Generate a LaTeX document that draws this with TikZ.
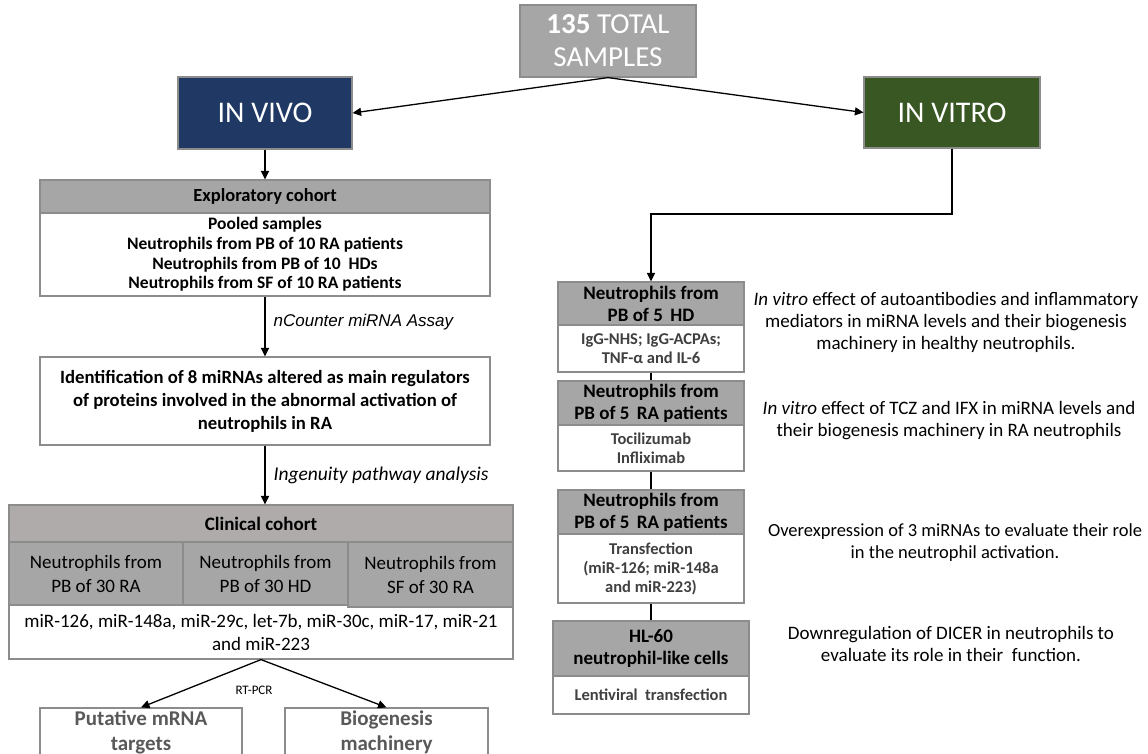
\documentclass[tikz,border=0pt]{standalone}
\usepackage{fontspec}
\setmainfont{Carlito}
\newfontfamily\arialfont{Liberation Sans}
\usetikzlibrary{arrows.meta}
\definecolor{boxgray}{HTML}{A6A6A6}
\definecolor{warmgray}{HTML}{AFABAB}
\definecolor{edgegray}{HTML}{8C8C8C}
\definecolor{vivoblue}{HTML}{203864}
\definecolor{vitrogreen}{HTML}{385723}
\definecolor{txtgray}{HTML}{404040}
\definecolor{txtgray2}{HTML}{595959}
\begin{document}
\begin{tikzpicture}[x=1pt,y=-1pt,
  frame/.style={draw=edgegray,line width=1.2pt,inner sep=0pt,align=center},
  bigbox/.style={frame,text=white,font=\fontsize{30}{36}\selectfont},
  hdr/.style={frame,fill=boxgray,font=\bfseries\fontsize{18.5}{20}\selectfont},
  whitebody/.style={frame,fill=white},
  cell/.style={frame,fill=boxgray,font=\fontsize{19}{24}\selectfont},
  vhdr/.style={frame,fill=boxgray,minimum width=186,font=\bfseries\fontsize{19}{22}\selectfont},
  vbody/.style={frame,fill=white,minimum width=186,text=txtgray,font=\bfseries\fontsize{16.5}{19}\selectfont},
  side/.style={align=center,inner sep=0pt,font=\fontsize{19}{22}\selectfont},
  arr/.style={-{Triangle[length=8.5pt,width=8pt]},line width=1.3pt},
  link/.style={line width=1.3pt},
  steplabel/.style={anchor=west,inner xsep=8pt,inner ysep=0pt}
]
\useasboundingbox (0,0) rectangle (1148,754);
\clip (0,0) rectangle (1148,754);

% top
\node[frame,fill=boxgray,text=white,minimum width=176,minimum height=72,
      font=\fontsize{29}{33}\selectfont] (total) at (608,41) {\textbf{135} TOTAL\\SAMPLES};
\node[bigbox,fill=vivoblue,minimum width=174,minimum height=72] (vivo) at (265,113) {IN VIVO};
\node[bigbox,fill=vitrogreen,minimum width=176,minimum height=71] (vitro) at (952,112.5) {IN VITRO};
\draw[arr] (total.south) -- (vivo.east);
\draw[arr] (total.south) -- (vitro.west);

% in vivo column
\node[hdr,minimum width=450,minimum height=33] (exph) at (265,196.5) {Exploratory cohort};
\node[whitebody,minimum width=450,minimum height=83,font=\bfseries\fontsize{17.5}{19.7}\selectfont] (expb) at (265,254.5)
  {Pooled samples\\Neutrophils from PB of 10 RA patients\\Neutrophils from PB of 10 \ HDs\\Neutrophils from SF of 10 RA patients};
\draw[arr] (vivo.south) -- (exph.north);

\node[whitebody,minimum width=450,minimum height=88,font=\bfseries\fontsize{18.7}{23}\selectfont] (ident) at (265,401)
  {Identification of 8 miRNAs altered as main regulators\\of proteins involved in the abnormal activation of\\neutrophils in RA};
\draw[arr] (expb.south) -- node[steplabel,yshift=4pt,font=\arialfont\itshape\fontsize{17}{20}\selectfont] {nCounter miRNA Assay} (ident.north);

\node[frame,fill=warmgray,minimum width=504,minimum height=37,font=\bfseries\fontsize{19}{22}\selectfont] (clinh) at (261,523.5) {Clinical cohort};
\draw[arr] (ident.south) -- node[steplabel,font=\itshape\fontsize{19.5}{22}\selectfont] {Ingenuity pathway analysis} (ident.south |- clinh.north);
\node[cell,minimum width=174,minimum height=63] (c1) at (96,573.5) {Neutrophils from\\PB of 30 RA};
\node[cell,minimum width=165,minimum height=63] (c2) at (265.5,573.5) {Neutrophils from\\PB of 30 HD};
\node[whitebody,minimum width=504,minimum height=54,font=\fontsize{19}{23}\selectfont] (clinb) at (261,632)
  {miR-126, miR-148a, miR-29c, let-7b, miR-30c, miR-17, miR-21\\and miR-223};
\node[cell,minimum width=165,minimum height=65] (c3) at (430.5,574.5) {Neutrophils from\\SF of 30 RA};

\node[whitebody,minimum width=202,minimum height=48,text=txtgray2,font=\bfseries\fontsize{21}{25}\selectfont] (put) at (141,732) {Putative mRNA\\targets};
\node[whitebody,minimum width=203,minimum height=48,text=txtgray2,font=\bfseries\fontsize{21}{25}\selectfont] (bio) at (386.5,732) {Biogenesis\\machinery};
\draw[arr] (clinb.south) -- (put.north);
\draw[arr] (clinb.south) -- (bio.north);
\node[font=\fontsize{13}{15}\selectfont,inner sep=0pt] (rtpcr) at (254,690) {RT-PCR};

% in vitro column
\node[vhdr,minimum height=43] (h1) at (651,303.5) {Neutrophils from\\PB of 5 \,HD};
\node[vbody,minimum height=47] (b1) at (651,348.5) {IgG-NHS; IgG-ACPAs;\\TNF-α and IL-6};
\node[vhdr,minimum height=44] (h2) at (651,403) {Neutrophils from\\PB of 5 \,RA patients};
\node[vbody,minimum height=46] (b2) at (651,448) {Tocilizumab\\Infliximab};
\node[vhdr,minimum height=44] (h3) at (651,512) {Neutrophils from\\PB of 5 \,RA patients};
\node[vbody,minimum height=69] (b3) at (651,568.5) {Transfection\\(miR-126; miR-148a\\and miR-223)};
\node[vhdr,minimum width=196,minimum height=55] (h4) at (651,648.5) {HL-60\\neutrophil-like cells};
\node[vbody,minimum width=196,minimum height=38] (b4) at (651,695) {Lentiviral \ transfection};

\coordinate (turn) at (952,214);
\draw[arr] (vitro.south) -- (turn) -| (h1.north);
\draw[link] (b1.south) -- (h2.north);
\draw[link] (b2.south) -- (h3.north);
\draw[link] (b3.south) -- (h4.north);

\node[side] (s1) at (946,322) {\textit{In vitro} effect of autoantibodies and inflammatory\\mediators in miRNA levels and their biogenesis\\machinery in healthy neutrophils.};
\node[side] (s2) at (949,421) {\textit{In vitro} effect of TCZ and IFX in miRNA levels and\\their biogenesis machinery in RA neutrophils};
\node[side,font=\fontsize{18.5}{22}\selectfont] (s3) at (955,543) {Overexpression of 3 miRNAs to evaluate their role\\in the neutrophil activation.};
\node[side] (s4) at (951,644) {Downregulation of DICER in neutrophils to\\evaluate its role in their \ function.};
\end{tikzpicture}
\end{document}
